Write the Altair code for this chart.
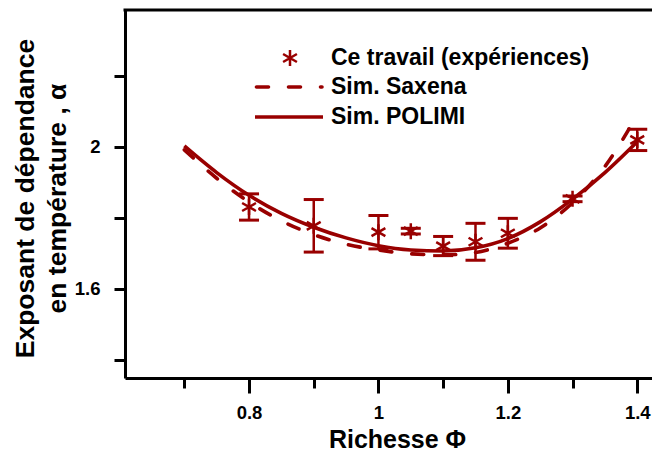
import altair as alt
import pandas as pd

RED = "#990000"
FONT = "Liberation Sans"

# Experimental points (Ce travail)
phi_exp = [0.8, 0.9, 1.0, 1.05, 1.1, 1.15, 1.2, 1.3, 1.4]
alpha_exp = [1.831, 1.778, 1.760, 1.763, 1.721, 1.733, 1.757, 1.854, 2.020]
alpha_err = [0.037, 0.074, 0.047, 0.008, 0.027, 0.052, 0.042, 0.008, 0.030]

# Simulations
phi_sim = [0.70, 0.75, 0.80, 0.85, 0.90, 0.95, 1.00, 1.05, 1.10, 1.15, 1.20, 1.25, 1.30, 1.35, 1.40]
alpha_polimi = [2.003, 1.928, 1.864, 1.813, 1.774, 1.744, 1.722, 1.710, 1.707, 1.716, 1.742, 1.789, 1.853, 1.928, 2.015]
alpha_saxena = [1.992, 1.912, 1.845, 1.792, 1.753, 1.726, 1.710, 1.699, 1.696, 1.703, 1.729, 1.772, 1.843, 1.945, 2.090]

x_ticks = [0.7, 0.8, 0.9, 1.0, 1.1, 1.2, 1.3, 1.4]
y_ticks = [1.4, 1.6, 1.8, 2.0, 2.2]
legend_labels = ["Ce travail (expériences)", "Sim. Saxena", "Sim. POLIMI"]

exp_df = pd.DataFrame({"phi": phi_exp, "alpha": alpha_exp, "err": alpha_err})
exp_df["lo"] = exp_df["alpha"] - exp_df["err"]
exp_df["hi"] = exp_df["alpha"] + exp_df["err"]
sim_df = pd.DataFrame({"phi": phi_sim, "polimi": alpha_polimi, "saxena": alpha_saxena})

W, H = 527, 368
x_scale = alt.Scale(domain=[0.6083, 1.4228], nice=False, zero=False)
y_scale = alt.Scale(domain=[1.3493, 2.3859], nice=False, zero=False)

x_axis = alt.Axis(
    values=x_ticks,
    labelExpr="round(datum.value*10) % 2 == 0 ? format(datum.value, '~g') : ''",
    tickSize={"condition": {"test": "round(datum.value*10) % 2 == 1", "value": 10}, "value": 15},
    labelPadding=10, labelFlush=False, labelOverlap=False,
    title="Richesse Φ", titleX=272, titleY=69, titleAlign="center",
    titleBaseline="alphabetic", titleFontSize=25,
)
y_axis = alt.Axis(
    values=y_ticks,
    labelExpr="round(datum.value*5) % 2 == 0 ? format(datum.value, '~g') : ''",
    tickSize=11, labelPadding=14, labelOverlap=False, labelFlush=False,
    title=["Exposant de dépendance", "en température , α"],
    titleX=-92, titleY=188, titleAngle=-90, titleAlign="center",
    titleBaseline="alphabetic", titleLineHeight=32, titleFontSize=26.5,
)


def X(field):
    return alt.X(field, type="quantitative", scale=x_scale, axis=x_axis)


def Y(field):
    return alt.Y(field, type="quantitative", scale=y_scale, axis=y_axis)


star = "M0,-1L0,1M-0.866,-0.5L0.866,0.5M-0.866,0.5L0.866,-0.5"
cap = "M-1,0L1,0"

saxena = alt.Chart(sim_df).mark_line(
    color=RED, strokeWidth=3.6, strokeDash=[12, 20], strokeCap="round", interpolate="monotone"
).encode(x=X("phi"), y=Y("saxena"))

polimi = alt.Chart(sim_df).mark_line(
    color=RED, strokeWidth=3.6, interpolate="monotone"
).encode(x=X("phi"), y=Y("polimi"))

bars = alt.Chart(exp_df).mark_rule(color=RED, strokeWidth=2.5).encode(
    x=X("phi"), y=Y("lo"), y2="hi"
)

caps = alt.Chart(exp_df).transform_fold(["lo", "hi"], as_=["k", "v"]).mark_point(
    shape=cap, size=400, filled=False, color=RED, strokeWidth=3, opacity=1
).encode(x=X("phi"), y=Y("v:Q"))

stars = alt.Chart(exp_df).mark_point(
    shape=star, size=256, filled=False, color=RED, strokeWidth=2.5, opacity=1
).encode(x=X("phi"), y=Y("alpha"))

one = pd.DataFrame({"a": [0]})

top_rule = alt.Chart(one).mark_rule(color="black", strokeWidth=3).encode(
    x=alt.value(-1.5), x2=alt.value(W), y=alt.value(0)
)

leg_star = alt.Chart(one).mark_point(
    shape=star, size=256, filled=False, color=RED, strokeWidth=2.5, opacity=1
).encode(x=alt.value(165), y=alt.value(48))
leg_dash = alt.Chart(one).mark_rule(
    color=RED, strokeWidth=3.6, strokeDash=[12, 20], strokeCap="round"
).encode(x=alt.value(131.5), x2=alt.value(197), y=alt.value(77))
leg_solid = alt.Chart(one).mark_rule(color=RED, strokeWidth=3.6).encode(
    x=alt.value(130), x2=alt.value(198), y=alt.value(107)
)

leg_texts = []
for lab, py in zip(legend_labels, [48, 77, 107]):
    leg_texts.append(
        alt.Chart(pd.DataFrame({"label": [lab]})).mark_text(
            align="left", baseline="middle", font=FONT, fontSize=23,
            fontWeight="bold", color="black"
        ).encode(x=alt.value(206), y=alt.value(py), text="label:N")
    )

chart = alt.layer(
    saxena, polimi, bars, caps, stars, top_rule, leg_star, leg_dash, leg_solid, *leg_texts
).properties(
    width=W, height=H,
    padding={"left": 117, "top": 2, "right": 0, "bottom": 75},
    autosize=alt.AutoSizeParams(type="none"),
).configure_view(stroke=None).configure_axis(
    grid=False, domainColor="black", domainWidth=3, tickColor="black", tickWidth=3,
    labelFont=FONT, labelFontSize=18.5, labelFontWeight="bold", labelColor="black",
    titleFont=FONT, titleFontWeight="bold", titleColor="black",
)

chart.save("out.html", embed_options={"renderer": "svg", "actions": False})
